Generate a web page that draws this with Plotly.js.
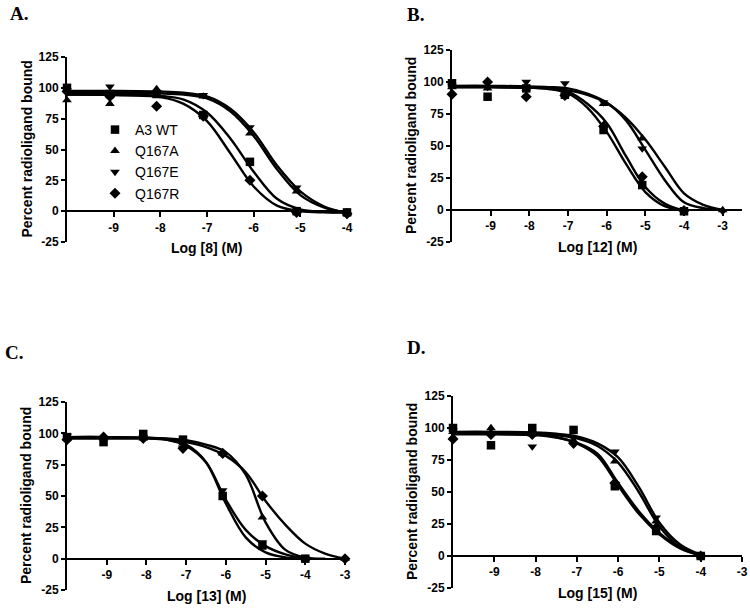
<!DOCTYPE html>
<html>
<head>
<meta charset="utf-8">
<script src="https://cdn.plot.ly/plotly-3.0.1.min.js"></script>
<style>
  html, body { margin: 0; padding: 0; background: #fff; }
  #chart { width: 750px; height: 609px; }
</style>
</head>
<body>
<div id="chart"></div>
<script>
// measured doses (log M) and x values where the fitted curves were read
const doses = [-10, -9.08, -8.08, -7.08, -6.08, -5.08, -4, -3];
const fitX = [-10, -9, -8, -7.5, -7, -6.5, -6, -5.5, -5, -4.5, -4, -3.5, -3];
const seriesNames = ['A3 WT', 'Q167A', 'Q167E', 'Q167R'];
const symbols = ['square', 'triangle-up', 'triangle-down', 'diamond'];

// panel A, compound 8
const aWT = [100, 95, 95, 78, 40, 0, -1, null];
const aQA = [90, 87, 99, 93, 63, 16, -2, null];
const aQE = [98, 101, 96, 94, 68, 19, -3, null];
const aQR = [97, 93, 85, 77, 25, -1, -2, null];
const aWTfit = [94.5, 94.3, 93.5, 90.5, 80, 59, 32, 10, 1.5, -0.5, -1];
const aQAfit = [96, 96, 95.5, 94.5, 91.5, 81, 61, 34, 13, 3, -1.5];
const aQEfit = [97.5, 97.5, 97, 96, 93, 83, 64, 37, 16, 4, -1.5];
const aQRfit = [94.5, 94.2, 92.5, 87, 73, 47, 20, 4.5, 0, -1, -1];

// panel B, compound 12
const bWT = [99, 88.5, 95, 90, 62.5, 19.5, -1, null];
const bQA = [96, 95, 95, 92, 83, 56, null, 0];
const bQE = [97, 96, 100, 99, 84, 48, null, -1];
const bQR = [90.5, 100, 88.5, 89.5, 65.5, 26, -0.5, null];
const bWTfit = [96, 96, 95.5, 94.5, 91, 80, 61, 36, 14, 3, -0.5];
const bQAfit = [96, 96, 95.5, 95, 93.5, 90, 83.5, 72, 55, 34, 13, 4, 0];
const bQEfit = [97, 97, 96.5, 96, 95, 91, 84, 70, 47, 23.5, 6, 1.5, 0];
const bQRfit = [96, 96, 95.5, 95, 92.5, 83, 68, 42, 18, 5, -0.5];

// panel C, compound 13
const cWT = [97, 93, 99.5, 95, 50, 10.5, 0, null];
const cQA = [96, 96, 96, 92, 84, 33, 0, 0];
const cQE = [98, 96, 97, 88, 54.5, 13, 0, null];
const cQR = [95, 97, 96, 88, 84, 50, null, 0];
const cWTfit = [96, 96, 96, 95, 91, 77, 44, 17, 5, 1, 0];
const cQAfit = [96, 96, 96, 96, 94.5, 91, 85, 67, 29, 7, 1, 0];
const cQEfit = [97, 97, 96.5, 95, 90, 77, 47, 23, 10, 3.5, 0.5];
const cQRfit = [97, 97, 96.5, 95.5, 93, 89, 82, 69, 46, 27, 12, 4, 0];

// panel D, compound 15
const dWT = [100, 86.5, 100, 98.5, 54.5, 19.5, 0, null];
const dQA = [97, 100, 95, 90, 74, 27, 0, null];
const dQE = [98, 95, 85.5, 92, 81.5, 30, 0, null];
const dQR = [91.5, 95, 95, 88, 57, 22, 0, null];
const dWTfit = [96, 96, 95, 93, 88, 78, 55, 33, 17, 6, 0.5];
const dQAfit = [96, 96, 95.5, 94.5, 92, 86, 73, 50, 23, 7, 0.5];
const dQEfit = [97, 97, 96.5, 95.5, 93.5, 88, 77, 54, 26, 9, 1];
const dQRfit = [95, 95, 94.5, 92.5, 88.5, 80, 57, 35, 18, 6.5, 0.5];

const yTicks = [-25, 0, 25, 50, 75, 100, 125];

const panels = [
  { letter: 'A.', xTitle: 'Log [8] (M)', xRange: [-10, -4], xTicks: [-9, -8, -7, -6, -5, -4],
    xDom: [67, 347], yDom: [57, 242], lx: 8, ly: 14,
    pts: [aWT, aQA, aQE, aQR], fits: [aWTfit, aQAfit, aQEfit, aQRfit] },
  { letter: 'B.', xTitle: 'Log [12] (M)', xRange: [-10, -2.5], xTicks: [-9, -8, -7, -6, -5, -4, -3],
    xDom: [452, 742], yDom: [50, 242], lx: 405, ly: 15,
    pts: [bWT, bQA, bQE, bQR], fits: [bWTfit, bQAfit, bQEfit, bQRfit] },
  { letter: 'C.', xTitle: 'Log [13] (M)', xRange: [-10, -3], xTicks: [-9, -8, -7, -6, -5, -4, -3],
    xDom: [67, 345], yDom: [402, 590], lx: 3, ly: 352,
    pts: [cWT, cQA, cQE, cQR], fits: [cWTfit, cQAfit, cQEfit, cQRfit] },
  { letter: 'D.', xTitle: 'Log [15] (M)', xRange: [-10, -3], xTicks: [-9, -8, -7, -6, -5, -4, -3],
    xDom: [453, 742], yDom: [396, 588], lx: 405, ly: 347,
    pts: [dWT, dQA, dQE, dQR], fits: [dWTfit, dQAfit, dQEfit, dQRfit] }
];

const W = 750, H = 609;
const font = { family: 'Liberation Sans, Arial, sans-serif', color: '#000' };
const boldFont = function (size) {
  return { family: font.family, size: size, color: '#000', weight: 'bold' };
};
const data = [];
const layout = {
  width: W, height: H,
  margin: { l: 0, r: 0, t: 0, b: 0 },
  paper_bgcolor: '#fff', plot_bgcolor: 'rgba(0,0,0,0)',
  font: font,
  showlegend: true,
  legend: {
    x: 95 / W, y: 1 - 114 / H, xanchor: 'left', yanchor: 'top',
    bgcolor: 'rgba(0,0,0,0)', borderwidth: 0,
    font: { family: font.family, size: 14, color: '#000' }
  },
  annotations: []
};

panels.forEach(function (p, i) {
  const n = i === 0 ? '' : String(i + 1);
  const xa = 'x' + n, ya = 'y' + n;
  const yd = [1 - p.yDom[1] / H, 1 - p.yDom[0] / H];
  const zeroPos = yd[0] + (0 - (-25)) / 150 * (yd[1] - yd[0]);
  const zeroPx = (1 - zeroPos) * H;

  layout['xaxis' + n] = {
    domain: [p.xDom[0] / W, p.xDom[1] / W],
    range: p.xRange, anchor: 'free', position: zeroPos,
    showgrid: false, zeroline: false, showline: true, linecolor: '#000', linewidth: 2,
    ticks: 'outside', ticklen: 5, tickwidth: 2, tickcolor: '#000',
    tickvals: p.xTicks, ticktext: p.xTicks.map(String),
    tickfont: boldFont(12),
    fixedrange: true
  };
  layout['yaxis' + n] = {
    domain: yd, range: [-25, 125], anchor: xa,
    showgrid: false, zeroline: false, showline: true, linecolor: '#000', linewidth: 2,
    ticks: 'outside', ticklen: 4, tickwidth: 2, tickcolor: '#000',
    tickvals: yTicks, ticktext: yTicks.map(String),
    tickfont: boldFont(12),
    fixedrange: true
  };
  // panel letter
  layout.annotations.push({
    xref: 'paper', yref: 'paper', x: p.lx / W, y: 1 - p.ly / H,
    xanchor: 'left', yanchor: 'middle', showarrow: false, text: p.letter,
    font: { family: 'Liberation Serif, Times New Roman, serif', size: 19, color: '#000', weight: 'bold' }
  });
  // x title
  layout.annotations.push({
    xref: 'paper', yref: 'paper', x: (p.xDom[0] + p.xDom[1]) / 2 / W, y: 1 - (zeroPx + 37) / H,
    xanchor: 'center', yanchor: 'middle', showarrow: false, text: p.xTitle,
    font: boldFont(14)
  });
  // y title
  layout.annotations.push({
    xref: 'paper', yref: 'paper', x: (p.xDom[0] - 41) / W, y: 1 - (p.yDom[0] + p.yDom[1]) / 2 / H,
    xanchor: 'center', yanchor: 'middle', showarrow: false, textangle: -90,
    text: 'Percent radioligand bound', font: boldFont(14)
  });

  p.fits.forEach(function (f) {
    data.push({
      x: fitX.slice(0, f.length), y: f, xaxis: xa, yaxis: ya,
      type: 'scatter', mode: 'lines', showlegend: false, hoverinfo: 'skip',
      line: { color: '#000', width: 2.4, shape: 'spline', smoothing: 1 }
    });
  });
  p.pts.forEach(function (v, k) {
    data.push({
      x: doses, y: v, xaxis: xa, yaxis: ya, name: seriesNames[k],
      type: 'scatter', mode: 'markers', cliponaxis: false,
      showlegend: i === 0,
      marker: { symbol: symbols[k], color: '#000', size: 8.5 }
    });
  });
});

Plotly.newPlot('chart', data, layout, { staticPlot: true });
</script>
</body>
</html>
